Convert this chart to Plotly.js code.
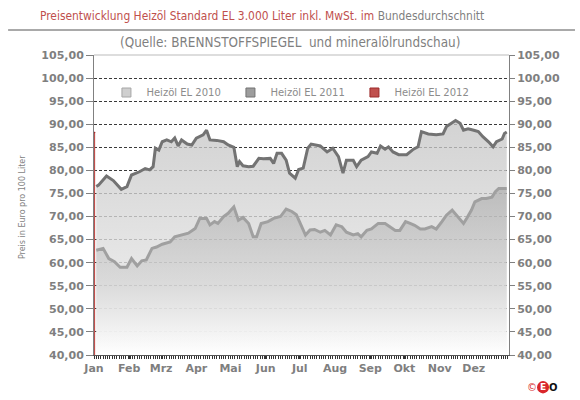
<!DOCTYPE html>
<html>
<head>
<meta charset="utf-8">
<script src="https://cdn.plot.ly/plotly-3.0.1.min.js"></script>
<style>
html,body{margin:0;padding:0;background:#fff;}
#chart{width:580px;height:400px;}
</style>
</head>
<body>
<div id="chart"></div>
<script>
// ---- data (day of year, price in EUR per 100 litres) ----
var months = ['Jan','Feb','Mrz','Apr','Mai','Jun','Jul','Aug','Sep','Okt','Nov','Dez'];
var monthStartDays = [0,31,59,90,120,151,181,212,243,273,304,334];
var yTicks = [40,45,50,55,60,65,70,75,80,85,90,95,100,105];

var days2011 = [2,4,11,17,24,29,33,40,45,49,52,54,57,60,64,68,71,74,77,82,86,90,96,99,102,108,114,118,123,126,128,131,136,140,145,149,155,158,161,165,169,172,177,180,184,188,191,199,205,210,215,219,222,228,231,235,241,244,249,252,256,259,263,268,275,281,285,288,294,301,307,310,318,322,325,329,334,338,342,347,351,354,359,361,363];
var price2011 = [76.5,76.8,78.8,77.8,75.9,76.5,79.0,79.7,80.4,80.1,80.8,84.8,84.4,86.2,86.6,86.2,87.0,85.3,86.6,85.7,85.5,87.0,87.7,88.7,86.6,86.5,86.2,85.5,85.0,80.8,81.9,81.0,80.8,80.9,82.6,82.5,82.6,81.5,83.7,83.7,82.2,79.4,78.3,80.2,80.5,84.8,85.7,85.3,84.0,84.8,83.0,79.4,82.2,82.2,80.8,82.2,83.0,84.0,83.7,85.3,84.6,85.1,84.0,83.4,83.4,84.6,85.1,88.4,87.9,87.7,87.9,89.5,90.8,90.2,88.7,89.0,88.7,88.4,87.3,86.2,85.1,86.2,86.8,88.0,88.3];

var days2010 = [2,8,13,18,23,29,33,38,42,46,51,55,60,67,71,76,83,89,93,99,102,106,109,114,118,123,127,131,136,140,143,147,153,158,164,169,174,178,183,186,190,194,199,203,208,213,218,222,228,232,235,240,244,250,256,260,265,269,274,278,282,287,291,297,301,306,310,315,319,325,328,332,335,341,345,350,353,356,361,363];
var price2010 = [62.7,63.1,60.9,60.2,59.0,59.0,60.9,59.3,60.4,60.6,63.1,63.4,64.0,64.5,65.6,66.0,66.4,67.4,69.6,69.6,68.2,68.9,68.5,70.0,70.7,72.1,69.2,69.8,68.5,65.6,65.6,68.5,68.9,69.6,70.0,71.6,71.1,70.4,67.4,66.0,67.1,67.2,66.6,67.0,66.0,68.2,67.8,66.6,66.0,66.3,65.6,67.0,67.3,68.5,68.5,67.8,67.0,67.0,68.9,68.5,68.1,67.3,67.3,67.8,67.3,68.9,70.3,71.4,70.3,68.5,69.7,71.4,73.2,73.9,73.9,74.2,75.4,76.1,76.1,76.1];

var days2012 = [0,1];
var price2012 = [88.1,88.3];

var seriesNames = ['Heizöl EL 2010','Heizöl EL 2011','Heizöl EL 2012'];
var legendFill = ['#cfcfcf','#9d9d9d','#c0504d'];
var legendEdge = ['#a6a6a6','#737373','#9c2b2b'];

var tickFont = {family:'DejaVu Sans, Verdana, sans-serif', size:11, color:'#7f7f7f', weight:'bold'};

var traces = [
  {
    x: days2011, y: price2011, name: seriesNames[1], showlegend:false,
    type:'scatter', mode:'lines', line:{color:'#737373', width:3},
    fill:'tozeroy',
    fillgradient:{type:'vertical', start:40, stop:92,
      colorscale:[[0,'rgba(255,255,255,1)'],[0.3,'rgba(228,228,228,0.8)'],[1,'rgba(195,195,195,0.75)']]},
    hoverinfo:'skip'
  },
  {
    x: days2010, y: price2010, name: seriesNames[0], showlegend:false,
    type:'scatter', mode:'lines', line:{color:'#a0a0a0', width:3},
    fill:'tozeroy',
    fillgradient:{type:'vertical', start:40, stop:77,
      colorscale:[[0,'rgba(255,255,255,0.5)'],[0.4,'rgba(205,205,205,0.5)'],[1,'rgba(165,165,165,0.6)']]},
    hoverinfo:'skip'
  },
  {
    x: days2012, y: price2012, name: seriesNames[2], showlegend:false,
    type:'scatter', mode:'lines', line:{color:'#9c2b2b', width:1.2},
    fill:'tozeroy', fillcolor:'#c0504d',
    hoverinfo:'skip'
  },
  {
    x: days2011, y: price2011, yaxis:'y2', type:'scatter', mode:'lines',
    line:{color:'rgba(0,0,0,0)', width:0}, showlegend:false, hoverinfo:'skip'
  }
];
// legend entries (square symbols as in the original)
for (var i = 0; i < seriesNames.length; i++) {
  traces.push({
    x:[null], y:[null], name: seriesNames[i], type:'scatter', mode:'markers',
    marker:{symbol:'square', size:9, color:legendFill[i], line:{color:legendEdge[i], width:1}},
    showlegend:true, hoverinfo:'skip'
  });
}

var layout = {
  width:580, height:400,
  margin:{l:94, r:71, t:55, b:45},
  paper_bgcolor:'#ffffff', plot_bgcolor:'#ffffff',
  separators:',.',
  showlegend:true,
  legend:{orientation:'h', x:0.03, y:0.875, xanchor:'left', yanchor:'middle',
    bgcolor:'rgba(0,0,0,0)', font:{family:'DejaVu Sans, Verdana, sans-serif', size:10, color:'#8c8c8c'},
    entrywidth:79, entrywidthmode:'pixels', itemwidth:30, traceorder:'normal'},
  xaxis:{
    range:[0,365], showgrid:false, zeroline:false,
    showline:true, linecolor:'#555', linewidth:1.2,
    tickmode:'array', tickvals: monthStartDays, ticktext: months,
    ticks:'outside', ticklen:3, tickcolor:'#333', tickwidth:1,
    minor:{dtick:2, ticks:'outside', ticklen:3, tickcolor:'#333', tickwidth:1, showgrid:false},
    tickfont: tickFont, fixedrange:true
  },
  yaxis:{
    range:[40,105], tickmode:'array', tickvals:yTicks, tickformat:'.2f', ticksuffix:' €',
    showgrid:true, gridcolor:'#3a3a3a', gridwidth:1, griddash:'3px,2px',
    zeroline:false, showline:true, linecolor:'#808080', linewidth:1,
    ticks:'outside', ticklen:7, tickcolor:'#808080', tickfont: tickFont, fixedrange:true
  },
  yaxis2:{
    range:[40,105], overlaying:'y', side:'right', tickmode:'array', tickvals:yTicks,
    tickformat:'.2f', ticksuffix:' €', showgrid:false, zeroline:false,
    showline:true, linecolor:'#808080', linewidth:1,
    ticks:'outside', ticklen:5, tickcolor:'#808080', tickfont: tickFont, fixedrange:true
  },
  shapes:[
    {type:'line', xref:'paper', yref:'paper', x0:-0.207, x1:1.159, y0:1.0833, y1:1.0833,
      line:{color:'#555', width:1}},
    {type:'line', xref:'paper', yref:'paper', x0:0, x1:1, y0:1, y1:1,
      line:{color:'#bbbbbb', width:1}},
    {type:'circle', xref:'paper', yref:'paper', x0:1.0675, x1:1.0965, y0:-0.087, y1:-0.128,
      fillcolor:'#d9262b', line:{width:0}}
  ],
  annotations:[
    {xref:'paper', yref:'paper', x:0.405, y:1.13, xanchor:'center', yanchor:'middle', showarrow:false,
      text:'<span style="color:#c0504d">Preisentwicklung Heizöl Standard EL 3.000 Liter inkl. MwSt. im</span> Bundesdurchschnitt',
      font:{family:'DejaVu Sans Condensed, sans-serif', size:11.9, color:'#7f7f7f'}},
    {xref:'paper', yref:'paper', x:0.472, y:1.043, xanchor:'center', yanchor:'middle', showarrow:false,
      text:'(Quelle: BRENNSTOFFSPIEGEL  und mineralölrundschau)',
      font:{family:'DejaVu Sans Condensed, sans-serif', size:13.4, color:'#7f7f7f'}},
    {xref:'paper', yref:'paper', x:-0.1735, y:0.493, xanchor:'center', yanchor:'middle', showarrow:false,
      textangle:-90, text:'Preis in Euro pro 100 Liter',
      font:{family:'DejaVu Sans, Verdana, sans-serif', size:8, color:'#7f7f7f'}},
    {xref:'paper', yref:'paper', x:1.055, y:-0.107, xanchor:'center', yanchor:'middle', showarrow:false,
      text:'©', font:{family:'DejaVu Sans, sans-serif', size:10, color:'#d9262b'}},
    {xref:'paper', yref:'paper', x:1.082, y:-0.107, xanchor:'center', yanchor:'middle', showarrow:false,
      text:'<b>E</b>', font:{family:'DejaVu Sans, sans-serif', size:9, color:'#ffffff'}},
    {xref:'paper', yref:'paper', x:1.108, y:-0.107, xanchor:'center', yanchor:'middle', showarrow:false,
      text:'<b>O</b>', font:{family:'DejaVu Sans, sans-serif', size:10, color:'#111111'}}
  ]
};

Plotly.newPlot('chart', traces, layout, {displayModeBar:false, staticPlot:true});
</script>
</body>
</html>
